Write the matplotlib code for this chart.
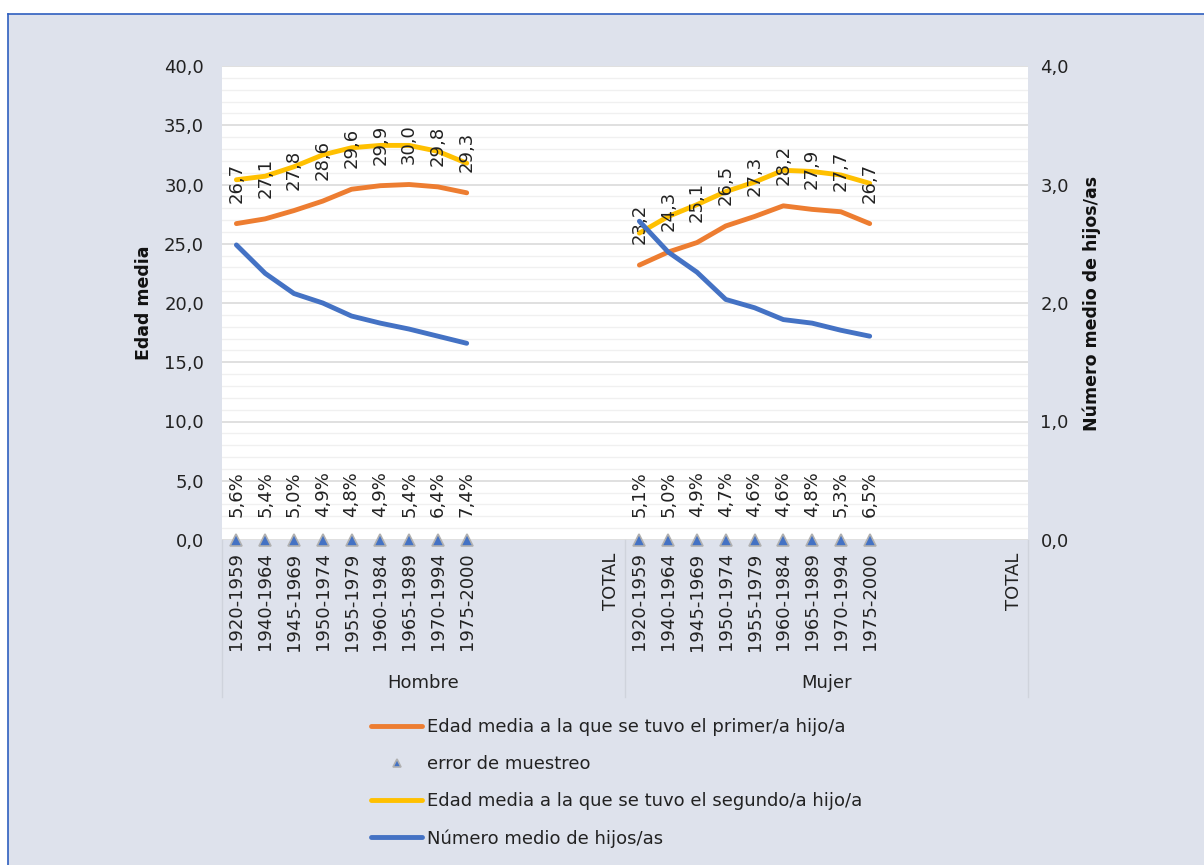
import matplotlib
matplotlib.use("Agg")
import matplotlib.pyplot as plt
from matplotlib.lines import Line2D
import matplotlib.transforms as mtransforms

plt.rcParams['font.family'] = ['DejaVu Sans']

cohorts = ["1920-1959", "1940-1964", "1945-1969", "1950-1974", "1955-1979",
           "1960-1984", "1965-1989", "1970-1994", "1975-2000"]
groups = ["Hombre", "Mujer"]

primer_h = [26.7, 27.1, 27.8, 28.6, 29.6, 29.9, 30.0, 29.8, 29.3]
primer_m = [23.2, 24.3, 25.1, 26.5, 27.3, 28.2, 27.9, 27.7, 26.7]
segundo_h = [30.4, 30.7, 31.5, 32.5, 33.1, 33.3, 33.3, 32.8, 31.8]
segundo_m = [25.9, 27.3, 28.3, 29.4, 30.2, 31.2, 31.1, 30.8, 30.1]
hijos_h = [2.49, 2.25, 2.08, 2.00, 1.89, 1.83, 1.78, 1.72, 1.66]
hijos_m = [2.69, 2.43, 2.26, 2.03, 1.96, 1.86, 1.83, 1.77, 1.72]
error_h = [5.6, 5.4, 5.0, 4.9, 4.8, 4.9, 5.4, 6.4, 7.4]
error_m = [5.1, 5.0, 4.9, 4.7, 4.6, 4.6, 4.8, 5.3, 6.5]

group_labels = cohorts + ["", "", "", "", "TOTAL"]
n_per_group = len(group_labels)
tick_labels = group_labels * len(groups)

ORANGE = "#ed7d31"
YELLOW = "#ffc000"
BLUE = "#4472c4"
BG = "#dee2ec"
LW = 3.5

fig = plt.figure(figsize=(12.04, 8.65), dpi=100, facecolor="white")
fig.patches.append(plt.Rectangle((8/1204, 0), 1 - 8/1204, 1 - 14/865,
                                 transform=fig.transFigure, facecolor=BG,
                                 edgecolor="none", zorder=-10))
fig.add_artist(Line2D([8/1204, 1], [1 - 14/865, 1 - 14/865], transform=fig.transFigure,
                      color="#2f5fbf", lw=1.2))
fig.add_artist(Line2D([8/1204, 8/1204], [0, 1 - 14/865], transform=fig.transFigure,
                      color="#2f5fbf", lw=1.2))

ax = fig.add_axes([222/1204, 1 - 540/865, (1028 - 222)/1204, (540 - 66)/865])
ax.set_facecolor("white")
ax2 = ax.twinx()

x_h = list(range(len(cohorts)))
x_m = [n_per_group + i for i in range(len(cohorts))]

ax.set_xlim(-0.5, len(tick_labels) - 0.5)
ax.set_ylim(0, 40)
ax2.set_ylim(0, 4)

ax.set_yticks(range(0, 41, 5))
ax.set_yticks(range(0, 41, 1), minor=True)
ax.set_yticklabels([f"{v:.1f}".replace(".", ",") for v in range(0, 41, 5)])
ax2.set_yticks(range(0, 5))
ax2.set_yticklabels([f"{v:.1f}".replace(".", ",") for v in range(0, 5)])

ax.grid(axis="y", which="major", color="#dadada", lw=1.2, zorder=0)
ax.grid(axis="y", which="minor", color="#f0f0f0", lw=1.0, zorder=0)
ax.set_axisbelow(True)

for a in (ax, ax2):
    for s in a.spines.values():
        s.set_visible(False)
ax.tick_params(axis="y", which="both", length=0, labelsize=13, colors="#222222", pad=13)
ax2.tick_params(axis="y", which="both", length=0, labelsize=13, colors="#222222", pad=9)
ax.set_xticks(range(len(tick_labels)))
ax.set_xticklabels(tick_labels, rotation=90, fontsize=13, color="#222222")
ax.tick_params(axis="x", length=0, pad=9)

for xs, ys in ((x_h, primer_h), (x_m, primer_m)):
    ax.plot(xs, ys, color=ORANGE, lw=LW, solid_capstyle="round", zorder=3)
for xs, ys in ((x_h, segundo_h), (x_m, segundo_m)):
    ax.plot(xs, ys, color=YELLOW, lw=LW, solid_capstyle="round", zorder=3)
for xs, ys in ((x_h, error_h), (x_m, error_m)):
    ax.plot(xs, [0] * len(xs), ls="none", marker="^", ms=8, mfc=BLUE, mec="#b0b0b0",
            mew=1.2, clip_on=False, zorder=4)
for xs, ys in ((x_h, hijos_h), (x_m, hijos_m)):
    ax2.plot(xs, ys, color=BLUE, lw=LW, solid_capstyle="round", zorder=3)

for xs, ys in ((x_h, primer_h), (x_m, primer_m)):
    for xv, yv in zip(xs, ys):
        ax.annotate(f"{yv:.1f}".replace(".", ","), (xv, yv), xytext=(0, 15),
                    textcoords="offset points", rotation=90, ha="center", va="bottom",
                    fontsize=13, color="#222222", zorder=5)
for xs, ys in ((x_h, error_h), (x_m, error_m)):
    for xv, yv in zip(xs, ys):
        ax.annotate(f"{yv:.1f}%".replace(".", ","), (xv, 0), xytext=(0, 16.5),
                    textcoords="offset points", rotation=90, ha="center", va="bottom",
                    fontsize=13, color="#222222", zorder=5)

trans = mtransforms.blended_transform_factory(ax.transData, ax.transAxes)
for gi, g in enumerate(groups):
    center = gi * n_per_group + (n_per_group - 1) / 2
    ax.text(center, -(683 - 540) / 474, g, transform=trans, ha="center", va="center",
            fontsize=13, color="#222222")
for gi in range(len(groups) + 1):
    xb = gi * n_per_group - 0.5
    ax.add_line(Line2D([xb, xb], [0, -(697 - 540) / 474], transform=trans,
                       color="#cfd3dc", lw=1.0, clip_on=False))

ax.set_ylabel("Edad media", fontsize=12.5, fontweight="bold", color="#111111", labelpad=8)
ax2.set_ylabel("Número medio de hijos/as", fontsize=12.5, fontweight="bold", color="#111111",
               labelpad=10)

handles = [
    Line2D([], [], color=ORANGE, lw=LW, solid_capstyle="round"),
    Line2D([], [], ls="none", marker="^", ms=6, mfc=BLUE, mec="#b0b0b0", mew=1.2),
    Line2D([], [], color=YELLOW, lw=LW, solid_capstyle="round"),
    Line2D([], [], color=BLUE, lw=LW, solid_capstyle="round"),
]
labels = [
    "Edad media a la que se tuvo el primer/a hijo/a",
    "error de muestreo",
    "Edad media a la que se tuvo el segundo/a hijo/a",
    "Número medio de hijos/as",
]
fig.legend(handles, labels, loc="center", bbox_to_anchor=(617/1204, 1 - 783/865),
           frameon=False, fontsize=13, labelspacing=1.05, handlelength=2.8,
           handletextpad=0.3, labelcolor="#222222")

fig.savefig("out.png", dpi=100, facecolor="white")
